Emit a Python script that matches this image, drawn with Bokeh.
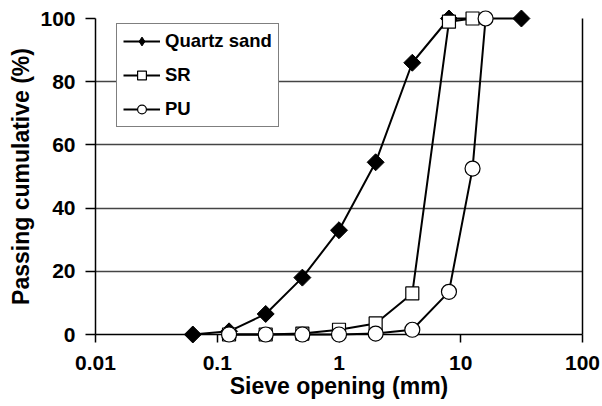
from bokeh.plotting import figure
from bokeh.models import (Range1d, FixedTicker, Legend, LegendItem, LinearAxis,
                          BasicTickFormatter)
from bokeh.embed import file_html
from bokeh.resources import INLINE
import math

# ---- data ----
sieve_quartz = [0.063, 0.125, 0.25, 0.5, 1, 2, 4, 8, 31.5]
pass_quartz = [0, 1, 6.5, 18, 33, 54.5, 86, 100, 100]

sieve_sr = [0.125, 0.25, 0.5, 1, 2, 4, 8, 12.5]
pass_sr = [0, 0, 0.3, 1.5, 3.5, 13, 99, 100]

sieve_pu = [0.125, 0.25, 0.5, 1, 2, 4, 8, 12.5, 16]
pass_pu = [0, 0, 0, 0, 0.3, 1.5, 13.5, 52.5, 100]

x_ticks = [0.01, 0.1, 1, 10, 100]
x_tick_labels = ["0.01", "0.1", "1", "10", "100"]
y_ticks = [0, 20, 40, 60, 80, 100]

series_names = ["Quartz sand", "SR", "PU"]

FONT = "Liberation Sans"

p = figure(x_axis_type="log",
           x_range=Range1d(0.01, 100), y_range=Range1d(0, 100),
           frame_width=487, frame_height=316,
           min_border_left=95, min_border_right=20,
           min_border_top=18, min_border_bottom=72,
           output_backend="svg", toolbar_location=None,
           x_axis_label="Sieve opening (mm)",
           y_axis_label="Passing cumulative (%)")

p.outline_line_color = None
p.background_fill_color = "white"
p.border_fill_color = "white"

# x axis
xa = p.xaxis[0]
xa.ticker = FixedTicker(ticks=x_ticks)
xa.formatter = BasicTickFormatter()
xa.major_label_overrides = dict(zip(x_ticks, x_tick_labels))
xa.minor_tick_line_color = None
xa.major_tick_out = 8
xa.major_tick_in = 0
xa.major_label_standoff = 13
xa.axis_label_standoff = 0
xa.axis_line_width = 1.5
xa.major_tick_line_width = 1.5

# y axis
ya = p.yaxis[0]
ya.ticker = FixedTicker(ticks=y_ticks)
ya.minor_tick_line_color = None
ya.major_tick_out = 10
ya.major_tick_in = 0
ya.major_label_standoff = 10
ya.axis_label_standoff = 3
ya.axis_line_width = 1.5
ya.major_tick_line_width = 1.5

for ax in (xa, ya):
    ax.major_label_text_font = FONT
    ax.major_label_text_font_style = "bold"
    ax.major_label_text_font_size = "21px"
    ax.major_label_text_color = "black"
    ax.axis_label_text_font = FONT
    ax.axis_label_text_font_style = "bold"
    ax.axis_label_text_font_size = "23px"
    ax.axis_label_text_color = "black"
    ax.axis_line_color = "black"
    ax.major_tick_line_color = "black"

# right border line
ra = LinearAxis(ticker=FixedTicker(ticks=[]), bounds=(0, 100),
                axis_line_color="black", axis_line_width=1.5,
                major_tick_line_color=None, minor_tick_line_color=None,
                major_label_text_font_size="0px")
p.add_layout(ra, "right")

p.xgrid.grid_line_color = None
p.ygrid.ticker = FixedTicker(ticks=y_ticks)
p.ygrid.grid_line_color = "#444444"
p.ygrid.grid_line_width = 1.3

# series
lq = p.line(sieve_quartz, pass_quartz, line_color="black", line_width=2, level="overlay")
# small diamonds (used for the legend symbol) lie fully under the larger rotated squares
dq = p.scatter(sieve_quartz, pass_quartz, marker="diamond", size=11,
               fill_color="black", line_color="black", level="overlay")
mq = p.scatter(sieve_quartz, pass_quartz, marker="square", angle=math.pi / 4, size=12,
               fill_color="black", line_color="black", level="overlay")
ls = p.line(sieve_sr, pass_sr, line_color="black", line_width=2, level="overlay")
ms = p.scatter(sieve_sr, pass_sr, marker="square", size=13,
               fill_color="white", line_color="black", line_width=1.2, level="overlay")
lp = p.line(sieve_pu, pass_pu, line_color="black", line_width=2, level="overlay")
mp = p.scatter(sieve_pu, pass_pu, marker="circle", size=15,
               fill_color="white", line_color="black", line_width=1.2, level="overlay")

legend = Legend(items=[LegendItem(label=series_names[0], renderers=[lq, dq]),
                       LegendItem(label=series_names[1], renderers=[ls, ms]),
                       LegendItem(label=series_names[2], renderers=[lp, mp])],
                location=(21, 207), margin=0, padding=6, spacing=12,
                glyph_width=37, glyph_height=22, label_height=20, label_standoff=5,
                label_text_font=FONT, label_text_font_style="bold",
                label_text_font_size="18.5px", label_text_color="black",
                border_line_color="black", border_line_width=1.5,
                background_fill_color="white", background_fill_alpha=1.0)
p.add_layout(legend)

open("out.html", "w").write(file_html(p, INLINE))
